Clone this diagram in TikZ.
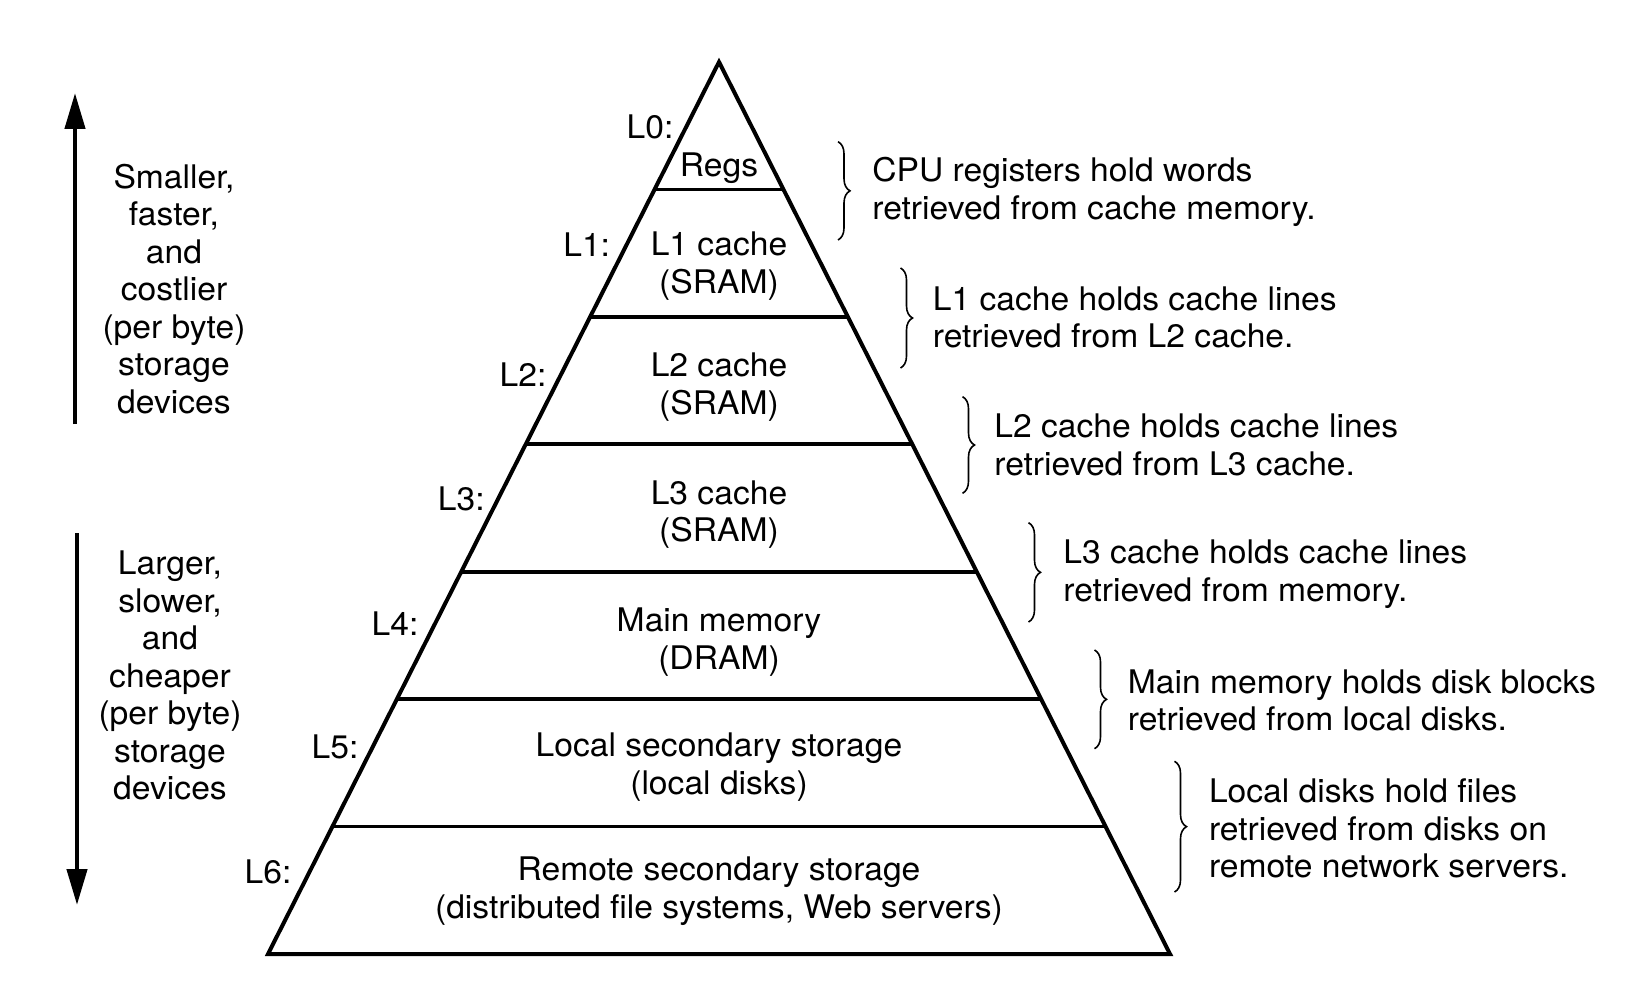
\documentclass[tikz,border=0pt]{standalone}
\usepackage{fontspec}
\setmainfont{TeX Gyre Heros}[FakeStretch=1.035]
\usetikzlibrary{arrows.meta,decorations.pathreplacing,calc}
\newcommand\lstr{\rule[-0.13em]{0pt}{0.98em}}
\begin{document}
\begin{tikzpicture}[x=0.5pt,y=-0.5pt,
  txt/.style={font=\fontsize{16.25pt}{18.75pt}\selectfont, inner sep=0pt, align=center},
  rtxt/.style={txt, align=left, anchor=west},
  pyr/.style={line width=2pt, line join=miter},
  lvl/.style={line width=1.8pt},
  bigarrow/.style={line width=2.2pt, -{Triangle[length=18pt,width=10pt]}},
  brc/.style={decorate, decoration={brace, amplitude=6pt}, line width=0.8pt}]
\useasboundingbox (0,0) rectangle (1642,984);
% pyramid
\coordinate (apex) at (719,62);
\coordinate (bl) at (268,954);
\coordinate (br) at (1170,954);
\draw[pyr] (apex) -- (bl) -- (br) -- cycle;
\foreach \k in {1,...,6}{
  \draw[lvl] ($(apex)!\k/7!(bl)$) -- ($(apex)!\k/7!(br)$);
}
% level texts
\node[txt] (t0) at (719,166.7) {\lstr Regs};
\node[txt] (t1) at (719,264) {\lstr L1 cache\\\lstr (SRAM)};
\node[txt] (t2) at (719,385) {\lstr L2 cache\\\lstr (SRAM)};
\node[txt] (t3) at (719,512.5) {\lstr L3 cache\\\lstr (SRAM)};
\node[txt] (t4) at (719,640) {\lstr Main memory\\\lstr (DRAM)};
\node[txt] (t5) at (719,765) {\lstr Local secondary storage\\\lstr (local disks)};
\node[txt] (t6) at (719,889) {\lstr Remote secondary storage\\\lstr (distributed file systems, Web servers)};
% level labels
\node[txt] (l0) at (650,126.7) {\lstr L0:};
\node[txt] (l1) at (586.7,245) {\lstr L1:};
\node[txt] (l2) at (523,375) {\lstr L2:};
\node[txt] (l3) at (461.3,498.3) {\lstr L3:};
\node[txt] (l4) at (395,623.7) {\lstr L4:};
\node[txt] (l5) at (335,747) {\lstr L5:};
\node[txt] (l6) at (268,872) {\lstr L6:};
% left side
\coordinate (ua0) at (75,424);
\coordinate (ua1) at (75,93);
\draw[bigarrow] (ua0) -- (ua1);
\node[txt] (up) at (174,289.2) {\lstr Smaller,\\\lstr faster,\\\lstr and\\\lstr costlier\\\lstr (per byte)\\\lstr storage\\\lstr devices};
\coordinate (da0) at (77,533);
\coordinate (da1) at (77,905);
\draw[bigarrow] (da0) -- (da1);
\node[txt] (down) at (170,675.3) {\lstr Larger,\\\lstr slower,\\\lstr and\\\lstr cheaper\\\lstr (per byte)\\\lstr storage\\\lstr devices};
% braces and descriptions
\coordinate (b1a) at (838,141.7); \coordinate (b1b) at (838,240);
\draw[brc] (b1a) -- (b1b);
\node[rtxt] (d1) at (872,190) {\lstr CPU registers hold words\\\lstr retrieved from cache memory.};
\coordinate (b2a) at (900.5,268); \coordinate (b2b) at (900.5,368);
\draw[brc] (b2a) -- (b2b);
\node[rtxt] (d2) at (932.5,317.3) {\lstr L1 cache holds cache lines\\\lstr retrieved from L2 cache.};
\coordinate (b3a) at (962.5,396.7); \coordinate (b3b) at (962.5,493.3);
\draw[brc] (b3a) -- (b3b);
\node[rtxt] (d3) at (994,445) {\lstr L2 cache holds cache lines\\\lstr retrieved from L3 cache.};
\coordinate (b4a) at (1028.5,522.7); \coordinate (b4b) at (1028.5,622);
\draw[brc] (b4a) -- (b4b);
\node[rtxt] (d4) at (1063,572) {\lstr L3 cache holds cache lines\\\lstr retrieved from memory.};
\coordinate (b5a) at (1094.5,650); \coordinate (b5b) at (1094.5,748.7);
\draw[brc] (b5a) -- (b5b);
\node[rtxt] (d5) at (1127.5,700.3) {\lstr Main memory holds disk blocks\\\lstr retrieved from local disks.};
\coordinate (b6a) at (1174.5,761.3); \coordinate (b6b) at (1174.5,892);
\draw[brc] (b6a) -- (b6b);
\node[rtxt] (d6) at (1208.6,828.7) {\lstr Local disks hold files\\\lstr retrieved from disks on\\\lstr remote network servers.};
\end{tikzpicture}
\end{document}
